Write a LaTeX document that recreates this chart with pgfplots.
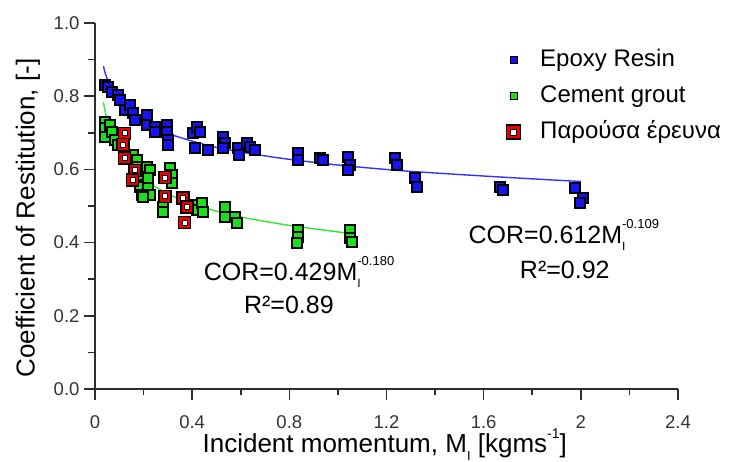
\documentclass[border=0pt]{standalone}
\usepackage{pgfplots}
\usepackage{pgfplotstable}
\pgfplotsset{compat=1.18}
\usepackage{fontspec}
\setmainfont{Liberation Sans}
\definecolor{epoxy}{RGB}{20,20,245}
\definecolor{cement}{RGB}{25,225,25}
\definecolor{redm}{RGB}{235,0,0}
\definecolor{fitblue}{RGB}{50,50,255}
\definecolor{fitgreen}{RGB}{50,230,50}
\definecolor{axisgray}{RGB}{45,45,45}
\newcommand{\fs}[1]{\fontsize{#1}{#1}\selectfont}
\newcommand{\subsup}[2]{\rlap{\raisebox{-0.28em}{\fs{12}#1}}\raisebox{0.62em}{\fs{13}#2}}

\pgfdeclareplotmark{redsq}{%
  \pgfsetlinewidth{1.2pt}%
  \pgfsetstrokecolor{black}%
  \pgfsetfillcolor{redm}%
  \pgfpathrectangle{\pgfpoint{-\pgfplotmarksize}{-\pgfplotmarksize}}{\pgfpoint{2\pgfplotmarksize}{2\pgfplotmarksize}}%
  \pgfusepath{fill,stroke}%
  \pgfsetfillcolor{white}%
  \pgfsetlinewidth{0.8pt}%
  \pgfpathrectangle{\pgfpoint{-0.42\pgfplotmarksize}{-0.42\pgfplotmarksize}}{\pgfpoint{0.84\pgfplotmarksize}{0.84\pgfplotmarksize}}%
  \pgfusepath{fill,stroke}%
}

\pgfplotstableread{
x y
0.041 0.831
0.053 0.825
0.070 0.811
0.095 0.803
0.103 0.790
0.123 0.762
0.144 0.776
0.156 0.754
0.165 0.735
0.214 0.749
0.214 0.721
0.247 0.716
0.247 0.702
0.296 0.721
0.296 0.702
0.300 0.680
0.300 0.667
0.403 0.699
0.420 0.716
0.412 0.658
0.432 0.702
0.465 0.653
0.527 0.689
0.535 0.672
0.527 0.658
0.588 0.658
0.593 0.639
0.626 0.672
0.638 0.661
0.658 0.653
0.835 0.645
0.835 0.626
0.926 0.631
0.938 0.626
1.041 0.634
1.049 0.612
1.041 0.598
1.235 0.631
1.243 0.612
1.317 0.577
1.325 0.552
1.667 0.552
1.679 0.544
1.975 0.549
2.008 0.522
1.996 0.508
}\epoxydata

\pgfplotstableread{
x y
0.041 0.730
0.041 0.713
0.041 0.689
0.062 0.721
0.070 0.702
0.082 0.680
0.095 0.667
0.156 0.639
0.173 0.626
0.173 0.607
0.193 0.585
0.185 0.552
0.193 0.530
0.214 0.607
0.226 0.598
0.218 0.577
0.218 0.549
0.226 0.530
0.198 0.525
0.309 0.604
0.317 0.585
0.317 0.563
0.280 0.497
0.280 0.484
0.412 0.503
0.420 0.489
0.440 0.508
0.444 0.484
0.535 0.497
0.535 0.470
0.576 0.470
0.584 0.454
0.835 0.434
0.835 0.415
0.831 0.399
1.049 0.434
1.049 0.413
1.058 0.402
}\cementdata

\pgfplotstableread{
x y
0.123 0.699
0.115 0.667
0.123 0.631
0.165 0.598
0.156 0.571
0.288 0.577
0.288 0.527
0.362 0.522
0.379 0.497
0.370 0.454
}\presentdata

\pgfplotstableread{
x y
0.035 0.882
0.05 0.848
0.1 0.787
0.2 0.729
0.3 0.698
0.5 0.660
0.75 0.632
1.0 0.612
1.25 0.597
1.5 0.586
1.75 0.576
2.0 0.567
}\epoxyfit

\pgfplotstableread{
x y
0.035 0.784
0.05 0.736
0.1 0.649
0.15 0.604
0.2 0.573
0.3 0.533
0.4 0.506
0.5 0.486
0.6 0.470
0.8 0.447
1.06 0.424
}\cementfit

\begin{document}
\begin{tikzpicture}
\useasboundingbox (-95pt,-73pt) rectangle (645pt,389pt);
\begin{axis}[
  at={(0pt,0pt)}, anchor=south west,
  scale only axis, width=583pt, height=366pt,
  xmin=0, xmax=2.4, ymin=0, ymax=1,
  axis lines*=left,
  clip=false,
  xtick={0,0.4,0.8,1.2,1.6,2,2.4},
  minor xtick={0.2,0.6,1.0,1.4,1.8,2.2},
  ytick={0,0.2,0.4,0.6,0.8,1.0},
  minor ytick={0.1,0.3,0.5,0.7,0.9},
  tick align=outside,
  major tick length=11pt, minor tick length=6.5pt,
  tick style={axisgray, line width=1.6pt},
  axis line style={axisgray, line width=1.8pt},
  /pgf/number format/assume math mode=true,
  tick label style={font=\fs{18.5}, text=black!80},
  xticklabel style={yshift=-12pt},
  yticklabel style={xshift=-1pt, /pgf/number format/.cd, fixed, fixed zerofill, precision=1},
  xlabel={Incident momentum, M\raisebox{-0.28em}{\fs{13}I} [kgms\raisebox{0.55em}{\fs{14}-1}]},
  ylabel={Coefficient of Restitution, [-]},
  xlabel style={font=\fs{26}, inner sep=0pt, at={(axis description cs:0.497,-0.152)}, anchor=center},
  ylabel style={font=\fs{26}, at={(axis description cs:-0.115,0.467)}, anchor=center},
  legend style={draw=none, fill=none, inner sep=0pt, outer sep=0pt,
    at={(axis description cs:0.7050,0.9330)}, anchor=north west,
    font=\fs{24}, row sep=11pt, column sep=18pt,
    nodes={inner sep=1pt, text height=18pt, text depth=5pt}},
  legend cell align=left,
]
\addplot[forget plot, only marks, mark=square*, mark size=5pt,
  mark options={fill=epoxy, draw=black, line width=1.8pt}] table {\epoxydata};
\addplot[forget plot, only marks, mark=square*, mark size=5pt,
  mark options={fill=cement, draw=black, line width=1.8pt}] table {\cementdata};
\addplot[forget plot, only marks, mark=redsq, mark size=6pt] table {\presentdata};
\addplot[forget plot, fitblue, line width=1.4pt, smooth] table {\epoxyfit};
\addplot[forget plot, fitgreen, line width=1.4pt, smooth] table {\cementfit};

\addlegendimage{only marks, mark=square*, mark size=3.4pt, mark options={fill=epoxy, draw=black, line width=1pt}}
\addlegendentry{Epoxy Resin}
\addlegendimage{only marks, mark=square*, mark size=3.4pt, mark options={fill=cement, draw=black, line width=1pt}}
\addlegendentry{Cement grout}
\addlegendimage{only marks, mark=redsq, mark size=7pt}
\addlegendentry{Παρούσα έρευνα}

\node[font=\fs{25}] at (axis cs:1.93,0.421) {COR=0.612M\subsup{I}{-0.109}};
\node[font=\fs{25}] at (axis cs:1.934,0.325) {R²=0.92};
\node[font=\fs{25}] at (axis cs:0.84,0.320) {COR=0.429M\subsup{I}{-0.180}};
\node[font=\fs{25}] at (axis cs:0.798,0.230) {R²=0.89};
\end{axis}
\end{tikzpicture}
\end{document}
